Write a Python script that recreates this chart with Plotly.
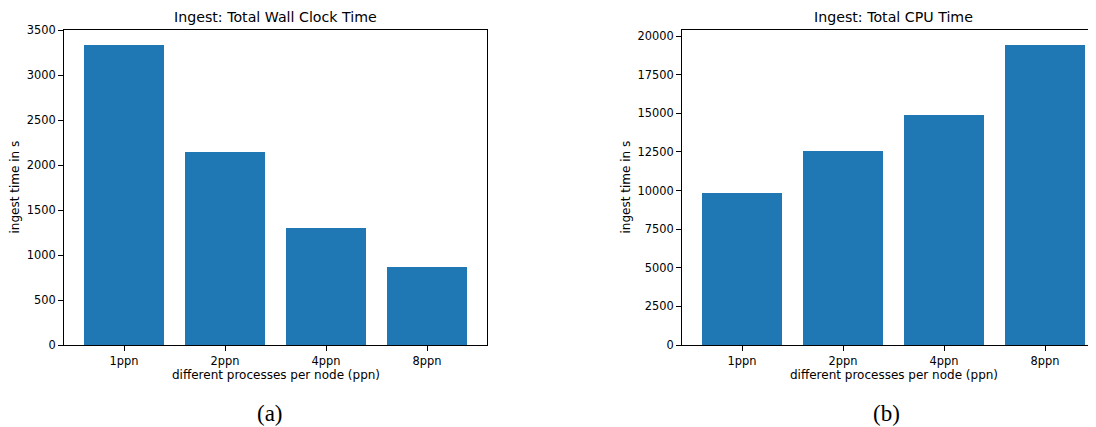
import plotly.graph_objects as go

categories = ["1ppn", "2ppn", "4ppn", "8ppn"]
wall_clock = [3335, 2150, 1305, 870]
cpu_time = [9850, 12540, 14915, 19420]
wall_ticks = [0, 500, 1000, 1500, 2000, 2500, 3000, 3500]
cpu_ticks = [0, 2500, 5000, 7500, 10000, 12500, 15000, 17500, 20000]

# page body has an 8px default margin; figure covers the rest of the window
OFF = 8
W, H = 1096 - OFF, 427 - OFF
BAR = "#1f77b4"
FONT = "DejaVu Sans"
TICK_PX = 11.4
LABEL_PX = 12.0
TITLE_PX = 14.2

def px(x):
    return (x - OFF) / W

def py(y):
    return 1 - (y - OFF) / H

fig = go.Figure()
fig.add_trace(go.Bar(x=categories, y=wall_clock, marker_color=BAR, marker_line_width=0,
                     width=0.8, xaxis="x", yaxis="y", showlegend=False))
fig.add_trace(go.Bar(x=categories, y=cpu_time, marker_color=BAR, marker_line_width=0,
                     width=0.8, xaxis="x2", yaxis="y2", showlegend=False))

axis_common = dict(showline=True, linecolor="black", linewidth=1, ticks="outside",
                   ticklen=5, tickwidth=1, tickcolor="black", showgrid=False, zeroline=False,
                   automargin=False,
                   tickfont=dict(family=FONT, size=TICK_PX, color="black"))

left_x0, left_x1 = 64, 487
right_x0 = 682
unit_px = (left_x1 - left_x0) / 4.188
right_range_end = -0.594 + (1096 - right_x0) / unit_px

fig.update_layout(
    width=W, height=H, margin=dict(l=0, r=0, t=0, b=0, autoexpand=False),
    paper_bgcolor="white", plot_bgcolor="white", bargap=0,
    xaxis=dict(domain=[px(left_x0), px(left_x1)], anchor="y", type="category",
               range=[-0.594, 3.594], mirror=True, **axis_common),
    yaxis=dict(domain=[py(345), py(30)], anchor="x", range=[0, 1.05 * max(wall_clock)],
               tickvals=wall_ticks, tickformat="d", mirror=True, **axis_common),
    xaxis2=dict(domain=[px(right_x0), 1.0], anchor="y2", type="category",
                range=[-0.594, right_range_end], mirror=True, **axis_common),
    yaxis2=dict(domain=[py(345), py(30)], anchor="x2", range=[0, 1.05 * max(cpu_time)],
                tickvals=cpu_ticks, tickformat="d", mirror=False, **axis_common),
)

def ann(text, x, y, size, family=FONT, angle=0):
    fig.add_annotation(text=text, x=px(x), y=py(y), xref="paper", yref="paper",
                       showarrow=False, xanchor="center", yanchor="middle",
                       textangle=angle, font=dict(family=family, size=size, color="black"))

ann("Ingest: Total Wall Clock Time", 275.5, 17, TITLE_PX)
ann("Ingest: Total CPU Time", 893.5, 17, TITLE_PX)
ann("different processes per node (ppn)", 275.5, 375, LABEL_PX)
ann("different processes per node (ppn)", 893.5, 375, LABEL_PX)
ann("ingest time in s", 14, 187.5, LABEL_PX, angle=-90)
ann("ingest time in s", 625, 187.5, LABEL_PX, angle=-90)
ann("(a)", 270, 413, 23, family="Liberation Serif")
ann("(b)", 886, 413, 23, family="Liberation Serif")

fig.write_html("out.html")
